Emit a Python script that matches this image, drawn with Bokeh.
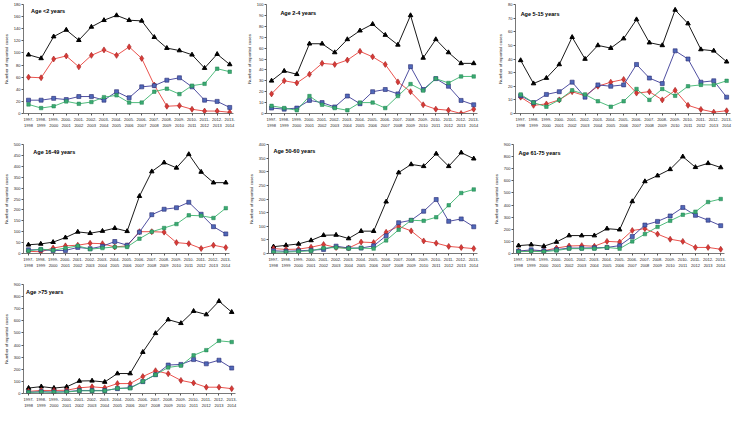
from bokeh.plotting import figure
from bokeh.layouts import row, column
from bokeh.models import Range1d, FixedTicker, Label
from bokeh.embed import file_html
from bokeh.resources import INLINE

seasons = ["1997-\n1998", "1998-\n1999", "1999-\n2000", "2000-\n2001", "2001-\n2002",
           "2002-\n2003", "2003-\n2004", "2004-\n2005", "2005-\n2006", "2006-\n2007",
           "2007-\n2008", "2008-\n2009", "2009-\n2010", "2010-\n2011", "2011-\n2012",
           "2012-\n2013", "2013-\n2014"]

# Age <2 years
a1_black = [97, 91, 127, 138, 121, 143, 154, 162, 154, 153, 126, 108, 104, 97, 75, 98, 81]
a1_red = [60, 59, 90, 95, 77, 96, 105, 96, 110, 91, 47, 12, 13, 7, 4, 4, 2]
a1_blue = [22, 22, 25, 23, 28, 28, 22, 36, 26, 44, 46, 55, 59, 44, 22, 20, 10]
a1_green = [15, 9, 12, 20, 16, 19, 27, 30, 18, 18, 36, 41, 32, 46, 49, 74, 69]

# Age 2-4 years
a2_black = [30, 39, 36, 64, 64, 56, 68, 76, 82, 72, 63, 90, 51, 68, 56, 46, 46]
a2_red = [18, 30, 28, 36, 46, 45, 49, 57, 52, 45, 29, 20, 8, 4, 3, 0, 4]
a2_blue = [5, 4, 5, 12, 10, 6, 16, 9, 20, 22, 18, 43, 22, 32, 25, 12, 8]
a2_green = [7, 5, 3, 16, 8, 5, 3, 10, 10, 5, 16, 27, 21, 32, 28, 34, 34]

# Age 5-15 years
a3_black = [39, 22, 26, 36, 56, 40, 50, 48, 55, 69, 52, 50, 76, 66, 47, 46, 38]
a3_red = [12, 6, 7, 10, 16, 13, 20, 23, 25, 15, 16, 10, 17, 6, 3, 1, 2]
a3_blue = [13, 8, 14, 16, 23, 12, 21, 20, 21, 36, 26, 22, 46, 40, 23, 24, 12]
a3_green = [14, 8, 5, 10, 17, 14, 9, 5, 9, 18, 10, 18, 13, 20, 21, 21, 24]

# Age 16-49 years
a4_black = [40, 44, 52, 73, 99, 93, 103, 116, 102, 263, 376, 417, 393, 455, 374, 325, 325]
a4_red = [10, 8, 25, 35, 38, 47, 45, 30, 35, 100, 100, 98, 50, 45, 23, 38, 27]
a4_blue = [17, 17, 14, 14, 28, 22, 33, 55, 38, 98, 178, 203, 210, 235, 180, 123, 90]
a4_green = [12, 20, 15, 25, 35, 20, 25, 30, 30, 68, 100, 117, 135, 175, 173, 163, 208]

# Age 50-60 years
a5_black = [25, 30, 35, 48, 67, 68, 55, 82, 82, 190, 297, 327, 320, 366, 320, 370, 348]
a5_red = [18, 15, 16, 23, 33, 22, 20, 42, 40, 78, 100, 83, 46, 38, 26, 22, 18]
a5_blue = [10, 8, 10, 12, 15, 27, 20, 20, 28, 65, 113, 122, 155, 198, 118, 127, 98]
a5_green = [5, 5, 7, 10, 20, 22, 18, 20, 18, 48, 87, 122, 120, 133, 177, 222, 235]

# Age 61-75 years
a6_black = [65, 73, 60, 95, 148, 148, 148, 205, 197, 430, 595, 643, 695, 800, 712, 745, 710]
a6_red = [20, 20, 22, 45, 62, 65, 60, 100, 95, 190, 205, 160, 118, 100, 50, 50, 35]
a6_blue = [20, 30, 22, 32, 45, 45, 47, 50, 65, 140, 235, 265, 310, 380, 315, 275, 230]
a6_green = [15, 18, 15, 25, 40, 40, 40, 50, 40, 100, 160, 220, 270, 320, 345, 425, 450]

# Age >75 years
a7_black = [45, 57, 45, 55, 103, 105, 95, 165, 165, 342, 497, 610, 580, 680, 652, 762, 672]
a7_red = [18, 25, 25, 27, 47, 55, 47, 82, 82, 140, 188, 163, 108, 87, 52, 52, 40]
a7_blue = [10, 15, 12, 15, 25, 25, 25, 40, 48, 98, 155, 235, 240, 280, 245, 275, 210]
a7_green = [10, 12, 10, 12, 22, 22, 22, 43, 43, 100, 155, 215, 230, 315, 358, 435, 425]

FONT = "Liberation Sans"
TXT = "#222222"


def panel(title, black, red, blue, green, ymax, step, w, h, bl, br, bt, bb, tx, ty):
    p = figure(width=w, height=h, x_range=Range1d(-0.4, 16.3), y_range=Range1d(0, ymax),
               output_backend="svg", toolbar_location=None,
               min_border_left=bl, min_border_right=br, min_border_top=bt, min_border_bottom=bb)
    p.outline_line_color = None
    p.grid.visible = False
    p.background_fill_color = "white"
    p.border_fill_color = "white"
    x = list(range(len(seasons)))

    p.line(x, black, line_color="black", line_width=0.9)
    p.scatter(x, black, marker="triangle", size=4.5, fill_color="black", line_color="black")
    p.line(x, red, line_color="#e8403a", line_width=0.9)
    p.scatter(x, red, marker="diamond", size=6, fill_color="#d93a36", line_color="#a02020", line_width=0.6)
    p.line(x, blue, line_color="#3c3c96", line_width=0.9)
    p.scatter(x, blue, marker="square", size=4, fill_color="#4f68b8", line_color="#2a2a72", line_width=0.6)
    p.line(x, green, line_color="#3cb46e", line_width=0.9)
    p.scatter(x, green, marker="square", size=3.5, fill_color="#3aaa72", line_color="#218050", line_width=0.5)

    p.xaxis.ticker = FixedTicker(ticks=x)
    p.xaxis.major_label_overrides = {i: s for i, s in enumerate(seasons)}
    p.yaxis.ticker = FixedTicker(ticks=list(range(0, ymax + 1, step)))
    for ax in (p.xaxis, p.yaxis):
        ax.axis_line_color = "#555555"
        ax.axis_line_width = 0.8
        ax.major_tick_line_color = "#555555"
        ax.major_tick_out = 2
        ax.major_tick_in = 0
        ax.minor_tick_line_color = None
        ax.major_label_text_font = FONT
        ax.major_label_text_font_size = "4px"
        ax.major_label_text_color = TXT
        ax.major_label_standoff = 1
    p.yaxis.axis_label = "Number of reported cases"
    p.yaxis.axis_label_text_font = FONT
    p.yaxis.axis_label_text_font_size = "4.3px"
    p.yaxis.axis_label_text_font_style = "normal"
    p.yaxis.axis_label_text_color = TXT
    p.yaxis.axis_label_standoff = 2

    p.add_layout(Label(x=tx, y=ty, text=title, text_font=FONT, text_font_size="5.5px",
                       text_font_style="bold", text_color="black", text_baseline="middle"))
    return p


p1 = panel("Age <2 years", a1_black, a1_red, a1_blue, a1_green, 180, 20,
           240, 134, 16, 7, 4, 19, 0.2, 170)
p2 = panel("Age 2-4 years", a2_black, a2_red, a2_blue, a2_green, 100, 10,
           250, 134, 26, 13, 4, 19, 0.7, 92)
p3 = panel("Age 5-15 years", a3_black, a3_red, a3_blue, a3_green, 80, 10,
           244, 134, 25, 4, 4, 21, 0.0, 73)
p4 = panel("Age 16-49 years", a4_black, a4_red, a4_blue, a4_green, 500, 50,
           240, 146, 15, 11, 6, 26, 0.4, 466)
p5 = panel("Age 50-60 years", a5_black, a5_red, a5_blue, a5_green, 400, 50,
           250, 146, 28, 13, 10, 25, 0.0, 377)
p6 = panel("Age 61-75 years", a6_black, a6_red, a6_blue, a6_green, 900, 100,
           244, 146, 17, 10, 4, 27, 0.0, 830)
p7 = panel("Age >75 years", a7_black, a7_red, a7_blue, a7_green, 900, 100,
           240, 130, 19, 5, 4, 14, -0.2, 841)

layout = column(row(p1, p2, p3), row(p4, p5, p6), row(p7))

open("out.html", "w").write(file_html(layout, INLINE))
